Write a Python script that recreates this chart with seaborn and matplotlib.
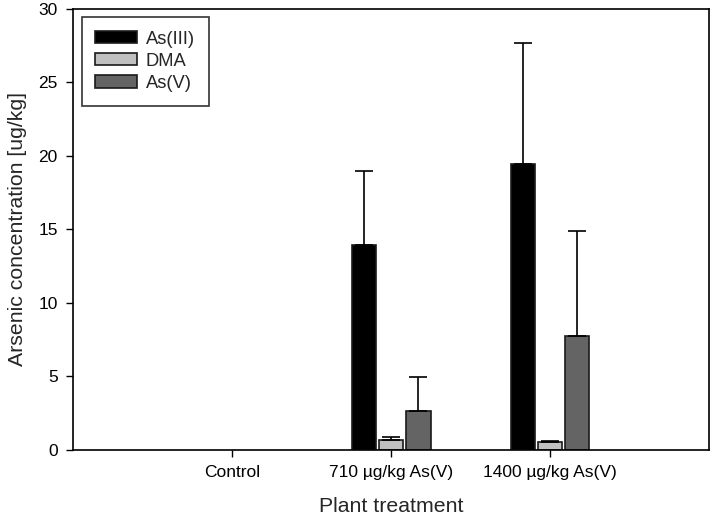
import matplotlib
matplotlib.use("Agg")
import matplotlib.pyplot as plt
import seaborn as sns
import pandas as pd
import numpy as np

# data
treatments = ["Control", "710 µg/kg As(V)", "1400 µg/kg As(V)"]
species = ["As(III)", "DMA", "As(V)"]
as3_mean = [0.0, 13.95, 19.45]
dma_mean = [0.0, 0.68, 0.54]
as5_mean = [0.0, 2.67, 7.78]
as3_err = [0.0, 5.0, 8.25]
dma_err = [0.0, 0.22, 0.09]
as5_err = [0.0, 2.27, 7.1]
colors = ["#000000", "#c0c0c0", "#646464"]

rows = []
for s, means, errs in zip(species, [as3_mean, dma_mean, as5_mean], [as3_err, dma_err, as5_err]):
    for t, m, e in zip(treatments, means, errs):
        rows.append({"Treatment": t, "Species": s, "Conc": m, "Err": e})
df = pd.DataFrame(rows)

sns.set_style("ticks")
plt.rcParams['font.family'] = ['Liberation Sans', 'DejaVu Sans']

fig = plt.figure(figsize=(7.1, 5.26), dpi=100)
ax = fig.add_axes([0.103, 0.1445, 0.8956, 0.8385])

sns.barplot(data=df, x="Treatment", y="Conc", hue="Species", order=treatments,
            hue_order=species, palette=colors, width=0.51, gap=0.08,
            edgecolor="#1a1a1a", linewidth=1.2, errorbar=None, saturation=1, ax=ax)

# one-sided error bars at the bar centres
for cont, s in zip(ax.containers, species):
    sub = df[df.Species == s].set_index("Treatment").loc[treatments]
    xs = [p.get_x() + p.get_width() / 2 for p in cont.patches]
    for p in cont.patches:
        if p.get_height() == 0:
            p.set_linewidth(0)
    ys = sub["Conc"].values
    errs = sub["Err"].values
    mask = errs > 0
    ax.errorbar(np.array(xs)[mask], ys[mask],
                yerr=[np.zeros(mask.sum()), errs[mask]],
                fmt="none", ecolor="black", elinewidth=1.2, capsize=6.5, capthick=1.2)

ax.set_xlim(-1, 3)
ax.set_ylim(0, 30)
ax.set_yticks([0, 5, 10, 15, 20, 25, 30])
ax.tick_params(axis="both", labelsize=12.5, length=5, width=1, direction="out",
               colors="black", pad=6)
for sp in ax.spines.values():
    sp.set_visible(True)
    sp.set_linewidth(1.2)
    sp.set_color("black")

ax.set_xlabel("Plant treatment", fontsize=15.3, labelpad=12)
ax.set_ylabel("Arsenic concentration [ug/kg]", fontsize=15.3, labelpad=8)

leg = ax.legend(loc="upper left", bbox_to_anchor=(0.0135, 0.982), fontsize=13.2,
                frameon=True, fancybox=False, edgecolor="black", handlelength=2.25,
                handleheight=0.65, borderpad=0.75, labelspacing=0.28, handletextpad=0.5,
                borderaxespad=0)
leg.get_frame().set_linewidth(1.2)
leg.set_title(None)

fig.savefig("out.png", dpi=100)
